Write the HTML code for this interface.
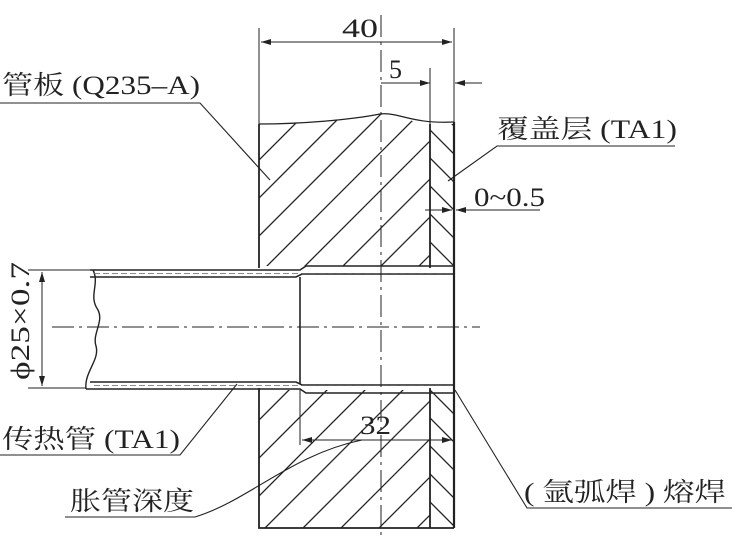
<!DOCTYPE html>
<html><head><meta charset="utf-8"><style>
html,body{margin:0;padding:0;background:#fff;}
svg{display:block;}
text{font-family:"Liberation Serif","Noto Serif CJK SC",serif;fill:#222;}
</style></head><body>
<svg width="732" height="545" viewBox="0 0 732 545" xmlns="http://www.w3.org/2000/svg">
<defs>
<clipPath id="up"><path d="M259,124 C300,124 350,120 380,114 C400,112 410,124 430,124 L430,266 L259,266 Z"/></clipPath>
<clipPath id="lo"><rect x="259" y="390" width="171" height="138"/></clipPath>
<clipPath id="cu"><rect x="430" y="124" width="24" height="142"/></clipPath>
<clipPath id="cl"><rect x="430" y="390" width="24" height="138"/></clipPath>
<marker id="ar" viewBox="0 0 10 6" refX="10" refY="3" markerWidth="10" markerHeight="6" orient="auto-start-reverse"><path d="M0,0 L10,3 L0,6 Z" fill="#222"/></marker>
</defs>
<g stroke="#222" stroke-width="1.3" fill="none">
<g clip-path="url(#up)">
<path d="M259,160 l60,-60 M259,198 l100,-100 M259,236 l140,-140 M259,274 l180,-180 M290,281 l180,-180 M328,281 l180,-180 M366,281 l180,-180 M404,281 l180,-180"/>
</g>
<g clip-path="url(#lo)">
<path d="M259,420 l40,-40 M259,458 l80,-80 M259,496 l120,-120 M259,534 l160,-160 M290,541 l180,-180 M328,541 l180,-180 M366,541 l180,-180 M404,541 l180,-180"/>
</g>
<g clip-path="url(#cu)">
<path d="M430,130 l24,24 M430,158 l24,24 M430,186 l24,24 M430,214 l24,24 M430,242 l24,24 M430,270 l24,24 M430,102 l24,24"/>
</g>
<g clip-path="url(#cl)">
<path d="M430,390 l24,24 M430,418 l24,24 M430,446 l24,24 M430,474 l24,24 M430,502 l24,24 M430,530 l24,24"/>
</g>
<path d="M259,124 C300,124 350,120 380,114 C400,112 410,124 454,122" stroke-width="1.2"/>
<path d="M259,124 L259,268 M259,388 L259,528 L454,528 M430,124 L430,268 M430,388 L430,528" stroke-width="1.8"/>
<path d="M454,122 L454,528" stroke-width="2.2"/>
<path d="M90,270 L300,270 L306,266 L454,266" stroke-width="1.6"/>
<path d="M90,277 L296,277 L302,274 L454,274" stroke-width="1.6"/>
<path d="M90,382 L296,382 L302,385 L454,385" stroke-width="1.6"/>
<path d="M86,389 L300,389 L306,393 L454,393" stroke-width="1.6"/>
<path d="M93,270 C100,284 88,296 98,310 C104,322 92,334 96,346 C100,360 84,372 86,389" stroke-width="1.4"/>
<path d="M300,277 L300,384" stroke-width="1.6"/>
<path d="M94,273.5 L454,273.5 M94,385.5 L454,385.5" stroke-dasharray="6,3" stroke-width="0.8" stroke="#666"/>
<path d="M52,327 L480,327" stroke-dasharray="22,5,3,5" stroke-width="1"/>
<path d="M381,15 L381,540" stroke-dasharray="22,5,3,5" stroke-width="1"/>
<path d="M259,28 L259,124 M454,28 L454,122" stroke-width="1"/>
<path d="M261,42 L452,42" stroke-width="1" marker-start="url(#ar)" marker-end="url(#ar)"/>
<path d="M430,68 L430,124" stroke-width="1"/>
<path d="M381,83 L430,83" stroke-width="1" marker-end="url(#ar)"/>
<path d="M482,83 L455,83" stroke-width="1" marker-end="url(#ar)"/>
<path d="M425,210 L452,210" stroke-width="1" marker-end="url(#ar)"/>
<path d="M540,210 L456,210" stroke-width="1" marker-end="url(#ar)"/>
<path d="M28,270 L90,270 M28,388 L86,388" stroke-width="1"/>
<path d="M42,272 L42,386" stroke-width="1" marker-start="url(#ar)" marker-end="url(#ar)"/>
<path d="M300,390 L300,445" stroke-width="1"/>
<path d="M302,440 L452,440" stroke-width="1" marker-start="url(#ar)" marker-end="url(#ar)"/>
<path d="M0,103 L200,103 L270,180" stroke-width="1.1"/>
<path d="M675,146 L497,146 L448,181" stroke-width="1.1"/>
<path d="M0,455 L180,455 L237,384" stroke-width="1.1"/>
<path d="M65,517 L195,517 C250,500 290,455 362,440" stroke-width="1.1"/>
<path d="M732,508 L527,508 L455,390" stroke-width="1.1"/>
</g>
<g font-size="26">
<text x="2" y="94" textLength="198" lengthAdjust="spacingAndGlyphs">管板 (Q235–A)</text>
<text x="497" y="138" textLength="180" lengthAdjust="spacingAndGlyphs">覆盖层 (TA1)</text>
<text x="2" y="448" textLength="178" lengthAdjust="spacingAndGlyphs">传热管 (TA1)</text>
<text x="70" y="510" textLength="124" lengthAdjust="spacingAndGlyphs">胀管深度</text>
<text x="524" y="501" textLength="202" lengthAdjust="spacingAndGlyphs">( 氩弧焊 ) 熔焊</text>
<text x="342" y="37" textLength="36" lengthAdjust="spacingAndGlyphs">40</text>
<text x="389" y="78">5</text>
<text x="474" y="206" textLength="71" lengthAdjust="spacingAndGlyphs">0~0.5</text>
<text x="360" y="434" textLength="31" lengthAdjust="spacingAndGlyphs">32</text>
<text transform="translate(29,380) rotate(-90)" textLength="118" lengthAdjust="spacingAndGlyphs">ϕ25×0.7</text>
</g>
</svg>
</body></html>
